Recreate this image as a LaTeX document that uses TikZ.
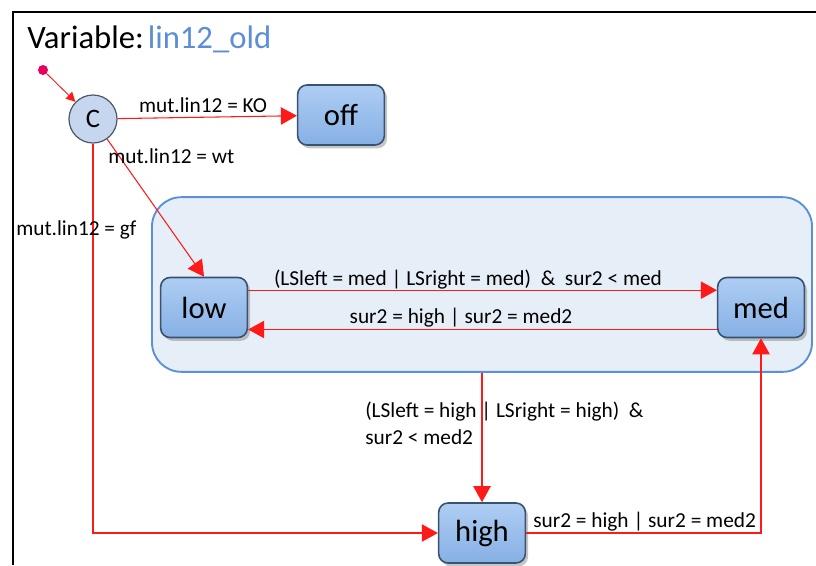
\documentclass[tikz,border=0pt]{standalone}
\usepackage{fontspec}
\setmainfont{Carlito}
\usetikzlibrary{arrows.meta,shadows}

\definecolor{transred}{HTML}{FF1A1A}
\definecolor{dotred}{HTML}{E8005A}
\definecolor{varblue}{HTML}{5B8ED6}
\definecolor{grpborder}{HTML}{5B8FD8}
\definecolor{grpfill}{HTML}{E6EEF8}
\definecolor{stborder}{HTML}{3A5272}
\definecolor{sttop}{HTML}{AECDF3}
\definecolor{stbot}{HTML}{86B0E4}
\definecolor{cfill}{HTML}{C5D6EE}
\definecolor{cborder}{HTML}{4A5868}

\tikzset{
  stbox/.style={draw=stborder, line width=1.2pt, rounded corners=7pt,
    top color=sttop, bottom color=stbot, minimum width=65pt, minimum height=45pt,
    inner sep=0pt, font=\fontsize{23}{27}\selectfont,
    drop shadow={shadow xshift=2pt, shadow yshift=-2.5pt, opacity=0.45}},
  grpbox/.style={draw=grpborder, fill=grpfill, line width=1.4pt, rounded corners=22pt,
    minimum width=495pt, minimum height=131pt},
  trans/.style={draw=transred, line width=0.8pt, -{Triangle[length=12pt,width=13pt]}},
  lbl/.style={font=\fontsize{16}{19}\selectfont, inner sep=0pt}
}

\begin{document}
\begin{tikzpicture}[x=0.75pt,y=-0.75pt]
    \useasboundingbox (0,0) rectangle (816,565);
    % Rahmen:
    \draw[line width=1.5pt] (13,565) -- (13,12) -- (816,12);
    \node[anchor=base west, inner sep=0pt, font=\fontsize{24.5}{29}\selectfont] (title) at (27,48) {Variable:\hspace{3pt}\textcolor{varblue}{lin12\_old}};
    % Startpunkt und Auswahl:
    \node[circle, fill=dotred, minimum size=7.5pt, inner sep=0pt] (init) at (43,70) {};
    \node[circle, draw=cborder, fill=cfill, line width=0.9pt, minimum size=36pt, inner sep=0pt, font=\fontsize{20}{24}\selectfont] (C) at (93,119) {C};
    % Gruppe:
    \node[grpbox] (grp) at (482,284.5) {};
    % Zustaende:
    \node[stbox] (off) at (341,115) {off};
    \node[stbox] (low) at (204,307.5) {low};
    \node[stbox] (med) at (761,307.5) {med};
    \node[stbox] (high) at (482,533) {high};
    % Uebergaenge:
\draw[draw=transred, line width=0.7pt, -{Triangle[length=7pt,width=7pt]}] (init) -- (C);
\draw[trans] (C) -- (off); % KO
\draw[trans] (C) -- (low.north); % wt
\draw[trans] (C.south) |- (high.west); % gf
\draw[trans] ([yshift=13pt]low.east) -- ([yshift=13pt]med.west);
\draw[trans] ([yshift=-16.5pt]med.west) -- ([yshift=-16.5pt]low.east);
\draw[trans] (grp.south -| high.north) -- (high.north);
\draw[trans] (high.east) -| (med.south);
    % Beschriftungen:
    \node[lbl, anchor=base] (lko) at (203,112) {mut.lin12 = KO};
    \node[lbl, anchor=base west] (lwt) at (108,163) {mut.lin12 = wt};
    \node[lbl, anchor=base west] (lgf) at (16,235) {mut.lin12 = gf};
    \node[lbl, anchor=base] (lmed) at (468,285) {(LSleft = med | LSright = med)~~\&~~sur2 < med};
    \node[lbl, anchor=base] (llow) at (461,323) {sur2 = high | sur2 = med2};
    \node[lbl, anchor=north west, align=left] (lhigh) at (365,402) {(LSleft = high | LSright = high)~~\&\\[1pt]sur2 < med2};
    \node[lbl, anchor=base west] (lback) at (533,527) {sur2 = high | sur2 = med2};
\end{tikzpicture}
\end{document}
